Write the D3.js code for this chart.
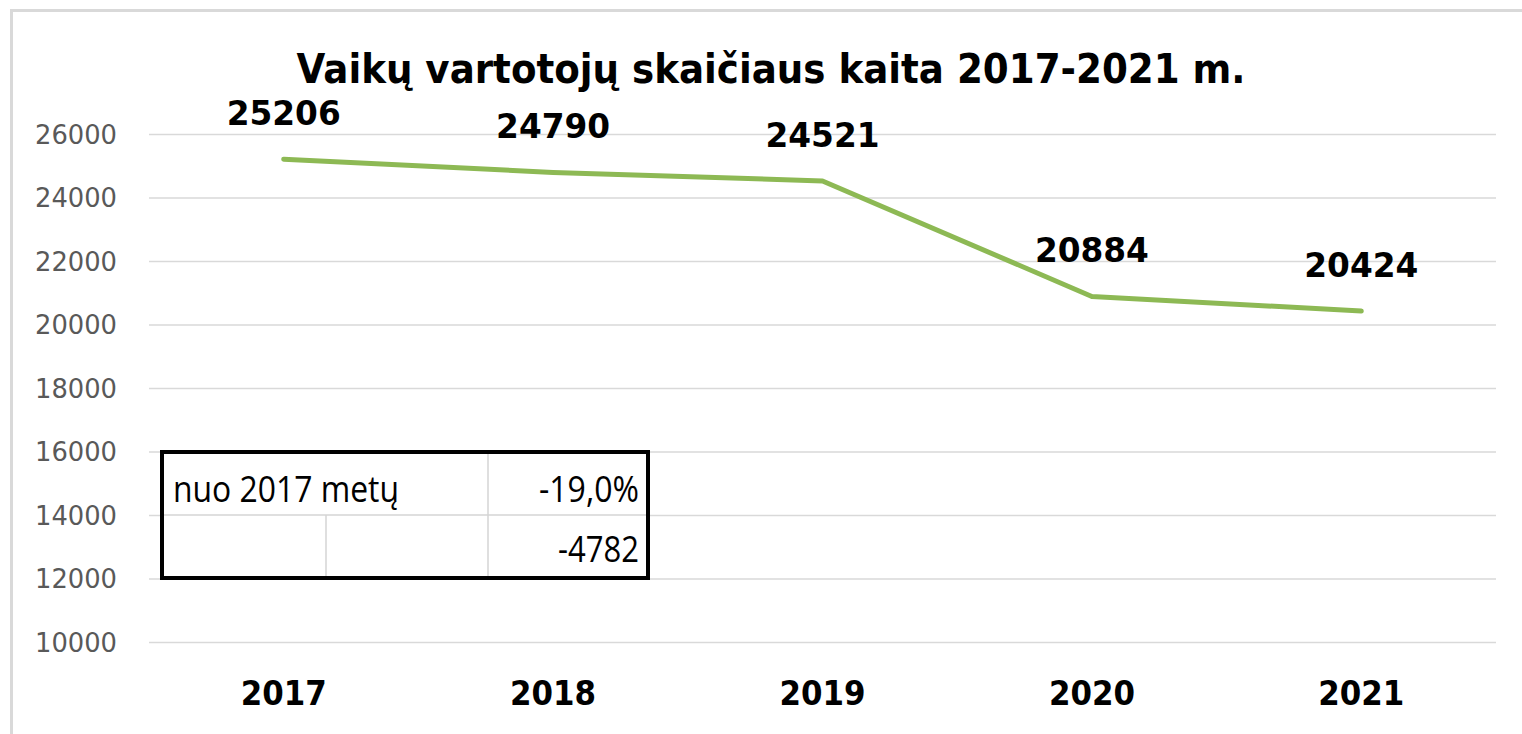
<!DOCTYPE html>
<html><head><meta charset="utf-8">
<script src="https://cdn.jsdelivr.net/npm/d3@7"></script>
<style>body{margin:0;background:#fff}svg{display:block}</style>
</head><body>
<svg id="c" width="1522" height="734"></svg>
<script>
const years = ["2017","2018","2019","2020","2021"];
const values = [25206,24790,24521,20884,20424];
const yTicks = [10000,12000,14000,16000,18000,20000,22000,24000,26000];
const title = "Vaikų vartotojų skaičiaus kaita 2017-2021 m.";
const tableRow1 = ["nuo 2017 metų","-19,0%"];
const tableRow2 = ["-4782"];

const svg = d3.select("#c");
const W=1522,H=734;
const m={l:149,r:1496,t:134,b:642};
const font="'DejaVu Sans','Open Sans',sans-serif";
const tfont="'Open Sans','Noto Sans',sans-serif";

// outer frame
svg.append("rect").attr("x",11.5).attr("y",10.5).attr("width",W+20).attr("height",H+20)
  .attr("fill","none").attr("stroke","#d9d9d9").attr("stroke-width",3);

const x=d3.scaleBand().domain(years).range([m.l,m.r]);
const y=d3.scaleLinear().domain([10000,26000]).range([m.b,m.t]);

// grid
const gy=svg.append("g").attr("transform",`translate(${m.l},0)`)
  .call(d3.axisLeft(y).tickValues(yTicks).tickSize(-(m.r-m.l)).tickPadding(32).tickFormat(d3.format("d")));
gy.select(".domain").remove();
gy.selectAll(".tick line").attr("stroke","#d9d9d9").attr("stroke-width",1.5);
gy.selectAll(".tick text").attr("fill","#595959").attr("font-family",font).attr("font-size",26)
  .attr("dy","0.36em").attr("textLength",82).attr("lengthAdjust","spacingAndGlyphs");

// x axis labels
const gx=svg.append("g").attr("transform",`translate(0,${m.b})`)
  .call(d3.axisBottom(x).tickSize(0).tickPadding(0));
gx.select(".domain").remove();
gx.selectAll(".tick text").attr("fill","#000").attr("font-family",font).attr("font-weight","bold")
  .attr("font-size",34).attr("y",63).attr("dy",0).attr("textLength",86).attr("lengthAdjust","spacingAndGlyphs");

// title
svg.append("text").attr("x",771).attr("y",83).attr("text-anchor","middle")
  .attr("font-family",font).attr("font-weight","bold").attr("font-size",40).attr("fill","#000")
  .attr("textLength",949).attr("lengthAdjust","spacingAndGlyphs").text(title);

// line
const cx=d=>x(d)+x.bandwidth()/2;
const line=d3.line().x((d,i)=>cx(years[i])).y(d=>y(d));
svg.append("path").datum(values).attr("d",line).attr("fill","none")
  .attr("stroke","#8db954").attr("stroke-width",5).attr("stroke-linecap","round").attr("stroke-linejoin","round");

// data labels
svg.append("g").selectAll("text").data(values).join("text")
  .attr("x",(d,i)=>cx(years[i])).attr("y",d=>y(d)-34).attr("text-anchor","middle")
  .attr("font-family",font).attr("font-weight","bold").attr("font-size",33).attr("fill","#000")
  .attr("textLength",114).attr("lengthAdjust","spacingAndGlyphs")
  .text(d=>d);

// table overlay
const t=svg.append("g");
const tx0=162,tx1=648,ty0=452,ty1=578,tym=515,tvx=488,tvx2=326;
t.append("rect").attr("x",tx0).attr("y",ty0).attr("width",tx1-tx0).attr("height",ty1-ty0).attr("fill","#fff");
t.append("line").attr("x1",tx0).attr("x2",tx1).attr("y1",tym).attr("y2",tym).attr("stroke","#d4d4d4").attr("stroke-width",1.5);
t.append("line").attr("x1",tvx).attr("x2",tvx).attr("y1",ty0).attr("y2",ty1).attr("stroke","#d4d4d4").attr("stroke-width",1.5);
t.append("line").attr("x1",tvx2).attr("x2",tvx2).attr("y1",tym).attr("y2",ty1).attr("stroke","#d4d4d4").attr("stroke-width",1.5);
t.append("rect").attr("x",tx0).attr("y",ty0).attr("width",tx1-tx0).attr("height",ty1-ty0)
  .attr("fill","none").attr("stroke","#000").attr("stroke-width",4);
t.append("text").attr("x",173).attr("y",502).attr("font-family",tfont).attr("font-size",37)
  .attr("textLength",226).attr("lengthAdjust","spacingAndGlyphs").attr("fill","#000").text(tableRow1[0]);
t.append("text").attr("x",639).attr("y",502).attr("text-anchor","end").attr("font-family",tfont).attr("font-size",37)
  .attr("fill","#000").attr("textLength",100).attr("lengthAdjust","spacingAndGlyphs").text(tableRow1[1]);
t.append("text").attr("x",639).attr("y",562).attr("text-anchor","end").attr("font-family",tfont).attr("font-size",37)
  .attr("fill","#000").attr("textLength",81).attr("lengthAdjust","spacingAndGlyphs").text(tableRow2[0]);
</script>
</body></html>
